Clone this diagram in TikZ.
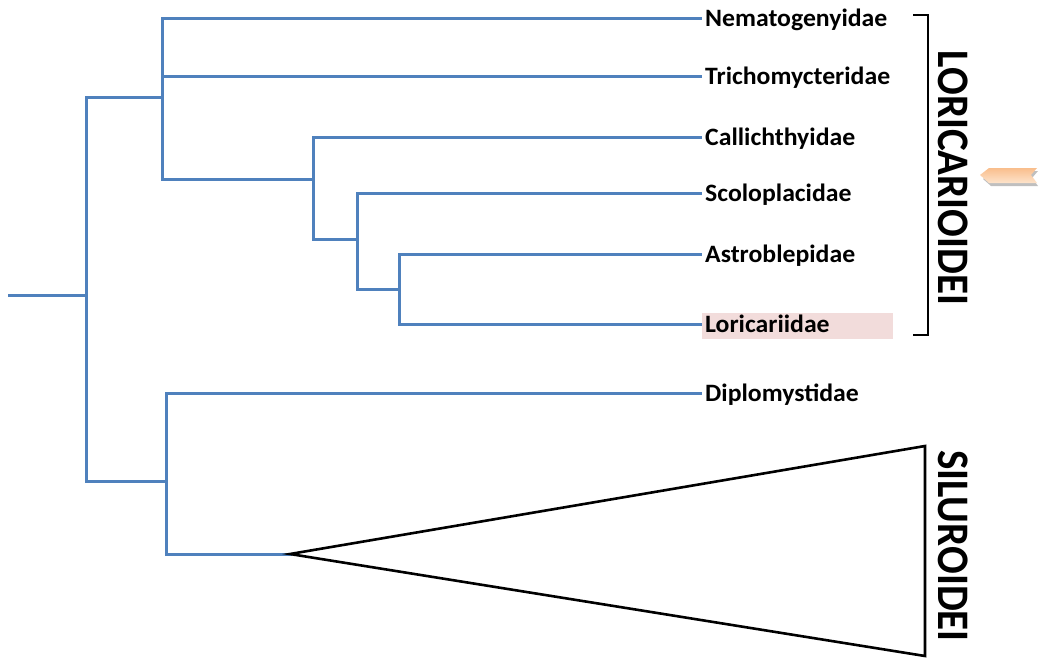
\documentclass[tikz,border=0pt]{standalone}
\usepackage{fontspec}
\setmainfont{Carlito}
\usepackage{tikz}
\usetikzlibrary{calc}
\definecolor{treeblue}{HTML}{4F81BD}
\definecolor{lorihl}{HTML}{F2DCDB}
\definecolor{flagorange}{HTML}{F9BE8C}
\definecolor{flaglight}{HTML}{FDE3CB}
\newcommand{\taxonname}[1]{\scalebox{1.03}[1]{#1}}
\newcommand{\groupname}[1]{\scalebox{1.1}[1]{\rotatebox{-90}{#1}}}

\begin{document}
\begin{tikzpicture}[
  x=1pt,y=-1pt,
  branch/.style={draw=treeblue,line width=3pt,line cap=rect},
  taxon/.style={anchor=base west,inner sep=0pt,font=\bfseries\fontsize{25}{25}\selectfont},
  group/.style={inner sep=0pt,font=\bfseries\fontsize{41}{41}\selectfont},
  outline/.style={draw=black,line width=2.6pt}
]
\useasboundingbox (0,0) rectangle (1040,661);
% branch points
\coordinate (r0) at (9,295);
\coordinate (n1) at (86,295);
\coordinate (n2) at (162,97);
\coordinate (n3) at (313,179);
\coordinate (n4) at (357,239);
\coordinate (n5) at (399,289);
\coordinate (n6) at (166,481);
\coordinate (apex) at (290,554);
% tips
\coordinate (tNema) at (700,19);
\coordinate (tTrich) at (700,76);
\coordinate (tCalli) at (700,137);
\coordinate (tScolo) at (700,193);
\coordinate (tAstro) at (700,254);
\coordinate (tLori) at (700,324);
\coordinate (tDiplo) at (700,393);
\fill[lorihl] (702,313) rectangle (893,339);
\node[taxon] (nema) at ([shift={(5,8)}]tNema) {\taxonname{Nematogenyidae}};
\node[taxon] (trich) at ([shift={(5,8)}]tTrich) {\taxonname{Trichomycteridae}};
\node[taxon] (calli) at ([shift={(5,8)}]tCalli) {\taxonname{Callichthyidae}};
\node[taxon] (scolo) at ([shift={(5,8)}]tScolo) {\taxonname{Scoloplacidae}};
\node[taxon] (astro) at ([shift={(5,8)}]tAstro) {\taxonname{Astroblepidae}};
\node[taxon] (lori) at ([shift={(5,8)}]tLori) {\taxonname{Loricariidae}};
\node[taxon] (diplo) at ([shift={(5,8)}]tDiplo) {\taxonname{Diplomystidae}};
\draw[branch] (r0) -- (n1);
\draw[branch] (n1) |- (n2);
\draw[branch] (n1) |- (n6);
\draw[branch] (n2) |- (tNema);
\draw[branch] (n2) |- (tTrich);
\draw[branch] (n2) |- (n3);
\draw[branch] (n3) |- (tCalli);
\draw[branch] (n3) |- (n4);
\draw[branch] (n4) |- (tScolo);
\draw[branch] (n4) |- (n5);
\draw[branch] (n5) |- (tAstro);
\draw[branch] (n5) |- (tLori);
\draw[branch] (n6) |- (tDiplo);
\draw[branch] (n6) |- (apex);
% collapsed clade
\coordinate (triTop) at (925,446);
\coordinate (triBot) at (925,656);
\draw[outline,line join=miter] (apex) -- (triTop) -- (triBot) -- cycle;
\node[group] (silu) at (953,546) {\groupname{SILUROIDEI}};
% bracket
\coordinate (brTop) at (928,15);
\coordinate (brBot) at (928,335);
\draw[outline] ([xshift=-15]brTop) -- (brTop) -- (brBot) -- ([xshift=-15]brBot);
\node[group] (lorigrp) at (953,178) {\groupname{LORICARIOIDEI}};
% marker
\fill[black!25] (983,179) -- (991,171) -- (1038,171) -- (1032,178) -- (1038,186) -- (991,186) -- cycle;
\shade[top color=flagorange,bottom color=flaglight] (980,175) -- (989,168) -- (1037,168) -- (1031,175) -- (1037,183) -- (989,183) -- cycle;
\end{tikzpicture}
\end{document}
